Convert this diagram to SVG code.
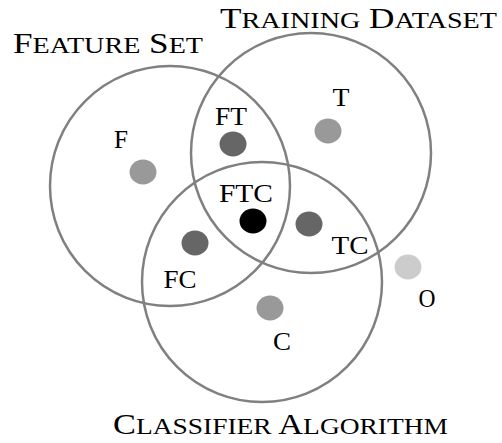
<svg xmlns="http://www.w3.org/2000/svg" width="502" height="443" viewBox="0 0 502 443">
<style>
.set{fill:none;stroke:#808080;stroke-width:2.5}
.t{font-family:"Liberation Serif","Times New Roman",serif;fill:#000}
.title{font-size:30px}
.sc{font-size:24px}
.lab{font-size:25px;text-anchor:middle}
.d1{fill:#666}
.d2{fill:#999}
</style>
<rect width="502" height="443" fill="#fff"/>
<g id="feature-set">
<circle class="set" cx="170" cy="186" r="120"/>
<text class="t title" x="13" y="53" textLength="190" lengthAdjust="spacingAndGlyphs">F<tspan class="sc">EATURE</tspan> S<tspan class="sc">ET</tspan></text>
</g>
<g id="training-dataset">
<circle class="set" cx="311" cy="153" r="120"/>
<text class="t title" x="220" y="28" textLength="277" lengthAdjust="spacingAndGlyphs">T<tspan class="sc">RAINING</tspan> D<tspan class="sc">ATASET</tspan></text>
</g>
<g id="classifier-algorithm">
<circle class="set" cx="262" cy="282" r="120"/>
<text class="t title" x="113" y="434" textLength="335" lengthAdjust="spacingAndGlyphs">C<tspan class="sc">LASSIFIER</tspan> A<tspan class="sc">LGORITHM</tspan></text>
</g>
<g id="connectors"></g>
<g id="F"><ellipse class="d2" cx="143" cy="172" rx="13.5" ry="12.5"/><text class="t lab" x="121" y="148" textLength="14" lengthAdjust="spacingAndGlyphs">F</text></g>
<g id="T"><ellipse class="d2" cx="328" cy="131" rx="13.5" ry="12.5"/><text class="t lab" x="341" y="106" textLength="17" lengthAdjust="spacingAndGlyphs">T</text></g>
<g id="C"><ellipse class="d2" cx="270" cy="308" rx="13.5" ry="12.5"/><text class="t lab" x="282" y="350" textLength="18" lengthAdjust="spacingAndGlyphs">C</text></g>
<g id="FT"><ellipse class="d1" cx="233" cy="144" rx="13.5" ry="12.5"/><text class="t lab" x="231" y="125" textLength="32" lengthAdjust="spacingAndGlyphs">FT</text></g>
<g id="TC"><ellipse class="d1" cx="309" cy="224" rx="13.5" ry="12.5"/><text class="t lab" x="350" y="254" textLength="37" lengthAdjust="spacingAndGlyphs">TC</text></g>
<g id="FC"><ellipse class="d1" cx="195" cy="243" rx="13.5" ry="12.5"/><text class="t lab" x="180" y="288" textLength="33" lengthAdjust="spacingAndGlyphs">FC</text></g>
<g id="FTC"><ellipse fill="#000" cx="253" cy="221" rx="13.5" ry="12.5"/><text class="t lab" x="246" y="202" textLength="54" lengthAdjust="spacingAndGlyphs">FTC</text></g>
<g id="O"><ellipse fill="#ccc" cx="408" cy="267" rx="13.5" ry="12.5"/><text class="t lab" x="427" y="307" textLength="17" lengthAdjust="spacingAndGlyphs">O</text></g>
</svg>
